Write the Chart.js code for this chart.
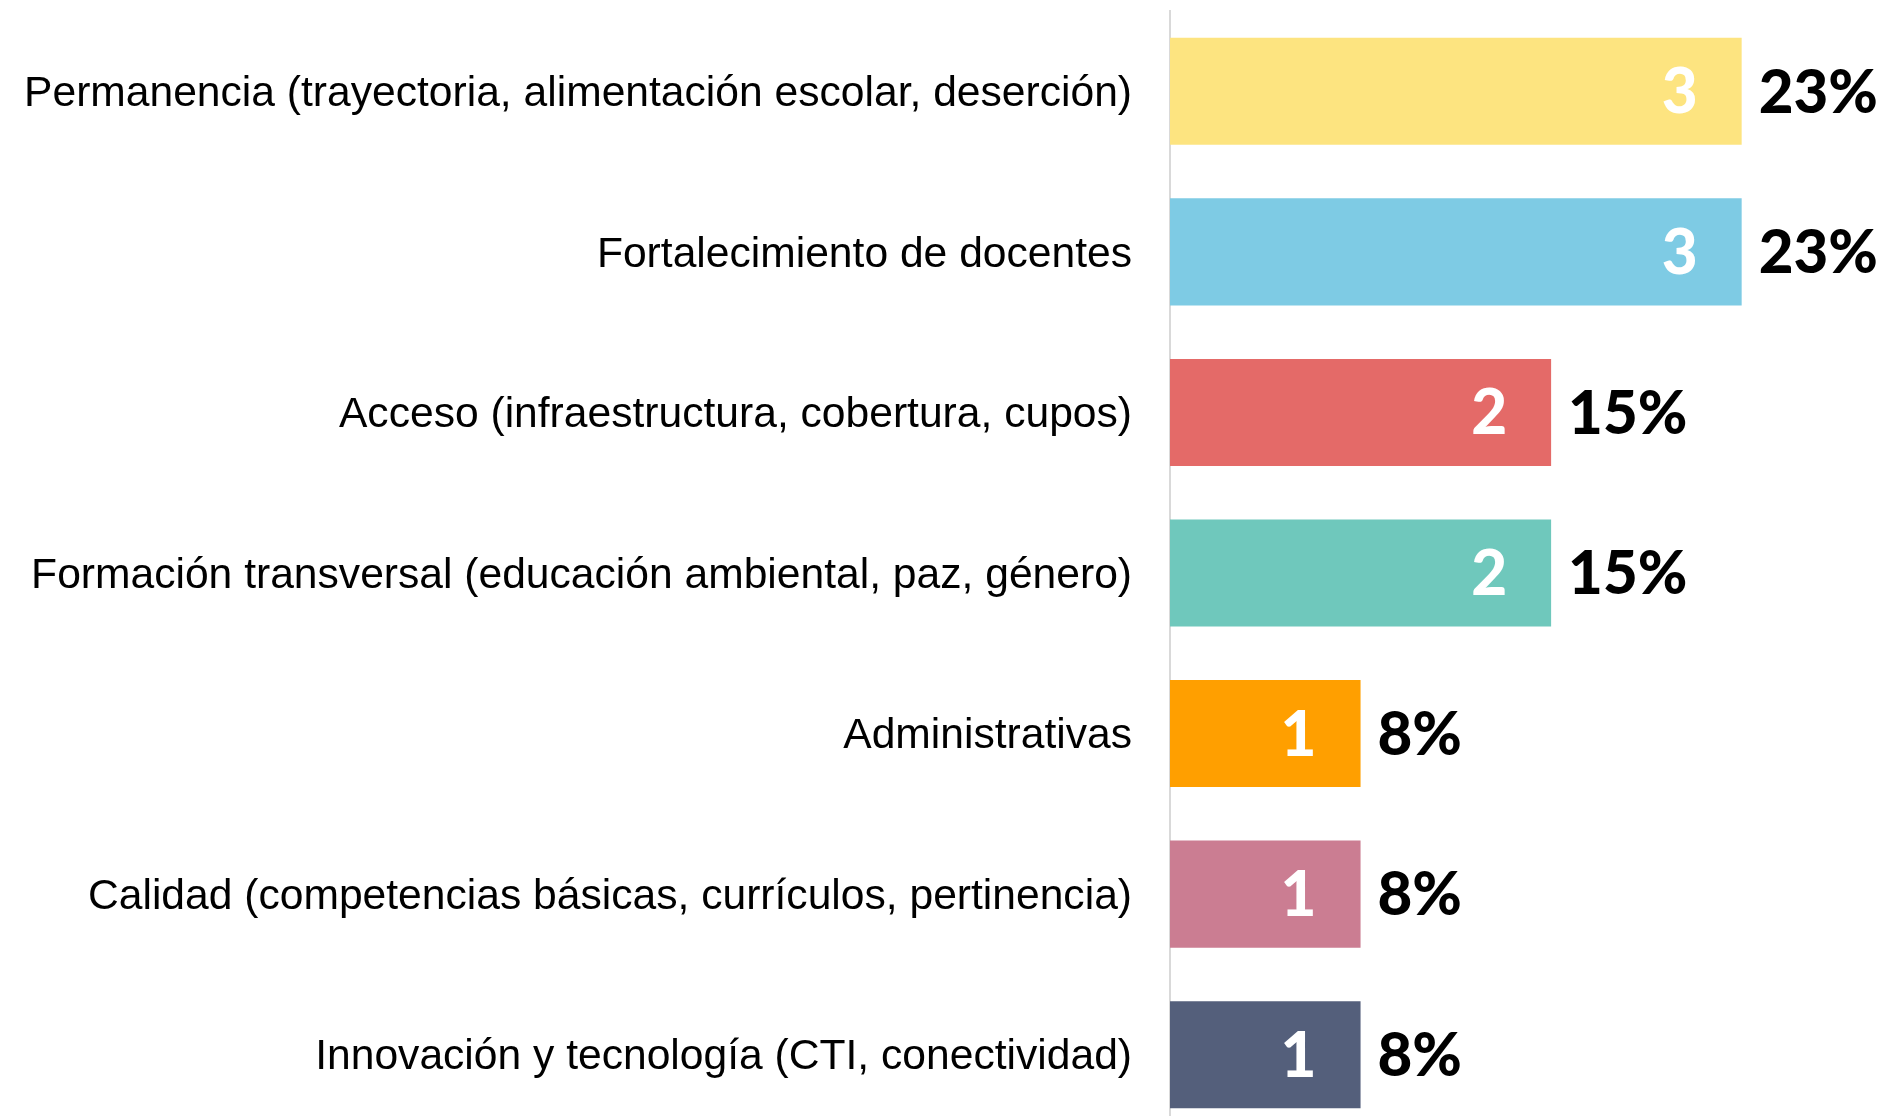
<!DOCTYPE html>
<html>
<head>
<meta charset="utf-8">
<script src="https://cdn.jsdelivr.net/npm/chart.js@4/dist/chart.umd.min.js"></script>
<style>
  html, body { margin: 0; padding: 0; background: #ffffff; overflow: hidden; }
  #wrap { position: relative; width: 1889px; height: 1136px; }
</style>
</head>
<body>
<div id="wrap"><canvas id="c"></canvas></div>
<script>
const categories = [
  "Permanencia (trayectoria, alimentación escolar, deserción)",
  "Fortalecimiento de docentes",
  "Acceso (infraestructura, cobertura, cupos)",
  "Formación transversal (educación ambiental, paz, género)",
  "Administrativas",
  "Calidad (competencias básicas, currículos, pertinencia)",
  "Innovación y tecnología (CTI, conectividad)"
];
const values = [3, 3, 2, 2, 1, 1, 1];
const pctLabels = ["23%", "23%", "15%", "15%", "8%", "8%", "8%"];
const barColors = ["#FDE480", "#7ECBE4", "#E46A68", "#6FC8BC", "#FF9F00", "#CB7D92", "#545F7B"];

const barLabels = {
  id: 'barLabels',
  afterDatasetsDraw(chart) {
    const ctx = chart.ctx;
    const meta = chart.getDatasetMeta(0);
    meta.data.forEach((bar, i) => {
      const p = bar.getProps(['x', 'y'], true);
      ctx.save();
      ctx.textBaseline = 'middle';
      ctx.font = '900 62px Lato, "Open Sans", sans-serif';
      ctx.fillStyle = '#ffffff';
      ctx.textAlign = 'right';
      ctx.fillText(String(values[i]), p.x - 44, p.y + 2);
      ctx.font = '900 60px Lato, "Open Sans", sans-serif';
      ctx.fillStyle = '#000000';
      ctx.textAlign = 'left';
      ctx.fillText(pctLabels[i], p.x + 17, p.y + 2);
      ctx.restore();
    });
  }
};

function draw() {
  new Chart(document.getElementById('c'), {
    type: 'bar',
    data: {
      labels: categories,
      datasets: [{
        data: values,
        backgroundColor: barColors,
        borderWidth: 0,
        barPercentage: 0.667,
        categoryPercentage: 1.0
      }]
    },
    options: {
      indexAxis: 'y',
      responsive: true,
      maintainAspectRatio: false,
      animation: false,
      layout: { padding: { top: 11, right: 33, bottom: 1, left: 0 } },
      plugins: { legend: { display: false }, tooltip: { enabled: false } },
      scales: {
        x: { display: false, min: 0, max: 3.6 },
        y: {
          grid: { display: false, drawTicks: false },
          border: { display: true, color: '#D9D9D9', width: 2 },
          ticks: {
            color: '#000000',
            padding: 38,
            labelOffset: 3,
            font: { family: '"Liberation Sans", Arial, sans-serif', size: 42.6 }
          },
          afterFit(scale) {
            scale.width = 1170;
            scale.paddingTop = 0;
            scale.paddingBottom = 0;
          }
        }
      }
    },
    plugins: [barLabels]
  });
}

Promise.all([
  document.fonts.load('900 62px Lato'),
  document.fonts.load('42px "Liberation Sans"')
]).catch(() => {}).then(draw);
</script>
</body>
</html>
